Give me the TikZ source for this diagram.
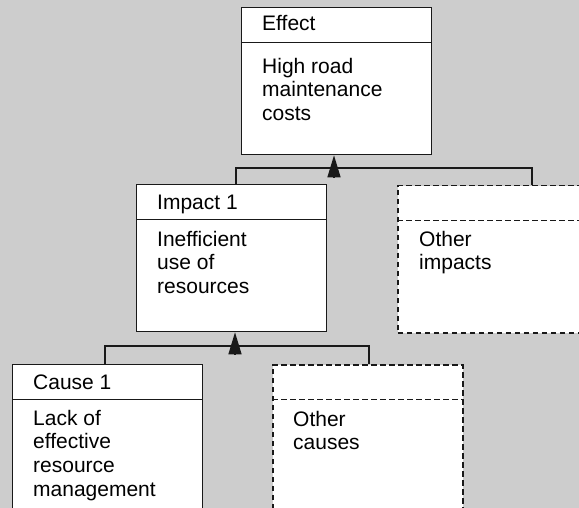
\documentclass[tikz,border=0pt]{standalone}
\usepackage{fontspec}
\setmainfont{Liberation Sans}
\usetikzlibrary{arrows.meta}
\definecolor{bggray}{RGB}{205,205,205}
\definecolor{ink}{RGB}{25,25,25}
\tikzset{
  box/.style={draw=ink, fill=white, line width=1.3pt, rectangle, inner sep=0pt,
    minimum width=190pt, minimum height=147pt, anchor=north west},
  dashes/.style={line width=1.5pt, dash pattern=on 5.5pt off 3.5pt},
  dbox/.style={box, dashes},
  % multi-line labels are placed by the baseline of their last line
  label/.style={anchor=base west, inner sep=0pt, align=left,
    font=\fontsize{21}{23.6}\selectfont, text=black},
  wire/.style={draw=ink, line width=1.3pt},
  uparrow/.style={wire, -{Triangle[length=22pt,width=13pt]}},
}
\begin{document}
\begin{tikzpicture}[x=1pt,y=-1pt]
  \clip (0,0) rectangle (579,508);
  \fill[bggray] (0,0) rectangle (579,508);

  % boxes
  \node[box]  (eff)  at (241,7)   {};
  \node[box]  (imp)  at (136,184) {};
  \node[dbox] (oimp) at (397,185) {};
  \node[box]  (cau)  at (12,364)  {};
  \node[dbox] (ocau) at (272,364) {};

  % title dividers
  \draw[wire] ([yshift=-35.5pt]eff.north west) -- ([yshift=-35.5pt]eff.north east);
  \draw[wire] ([yshift=-35.5pt]imp.north west) -- ([yshift=-35.5pt]imp.north east);
  \draw[wire, dashes] ([yshift=-35.5pt]oimp.north west) -- ([yshift=-35.5pt]oimp.north east);
  \draw[wire] ([yshift=-35.5pt]cau.north west) -- ([yshift=-35.5pt]cau.north east);
  \draw[wire, dashes] ([yshift=-35.5pt]ocau.north west) -- ([yshift=-35.5pt]ocau.north east);

  % texts
  \node[label] (eff-t) at (262,31)    {Effect};
  \node[label] (eff-b) at (262,120.5) {High road\\maintenance\\costs};
  \node[label] (imp-t) at (157,210)   {Impact 1};
  \node[label] (imp-b) at (157,293.5) {Inefficient\\use of\\resources};
  \node[label] (oimp-b) at (419,269.8) {Other\\impacts};
  \node[label] (cau-t) at (33,389)    {Cause 1};
  \node[label] (cau-b) at (33,496)    {Lack of\\effective\\resource\\management};
  \node[label] (ocau-b) at (293,449.8) {Other\\causes};

  % upper level connectors
  \coordinate (j1l) at (236,168);
  \coordinate (j1r) at (532,168);
  \draw[wire] (j1l |- imp.north) -- (j1l) -- (j1r) -- (j1r |- oimp.north);
  \coordinate (a1) at (334,177);
  \draw[uparrow] (a1) -- (a1 |- eff.south);

  % lower level connectors
  \coordinate (j2l) at (105,346);
  \coordinate (j2r) at (369,346);
  \draw[wire] (j2l |- cau.north) -- (j2l) -- (j2r) -- (j2r |- ocau.north);
  \coordinate (a2) at (235,354);
  \draw[uparrow] (a2) -- (a2 |- imp.south);
\end{tikzpicture}
\end{document}
